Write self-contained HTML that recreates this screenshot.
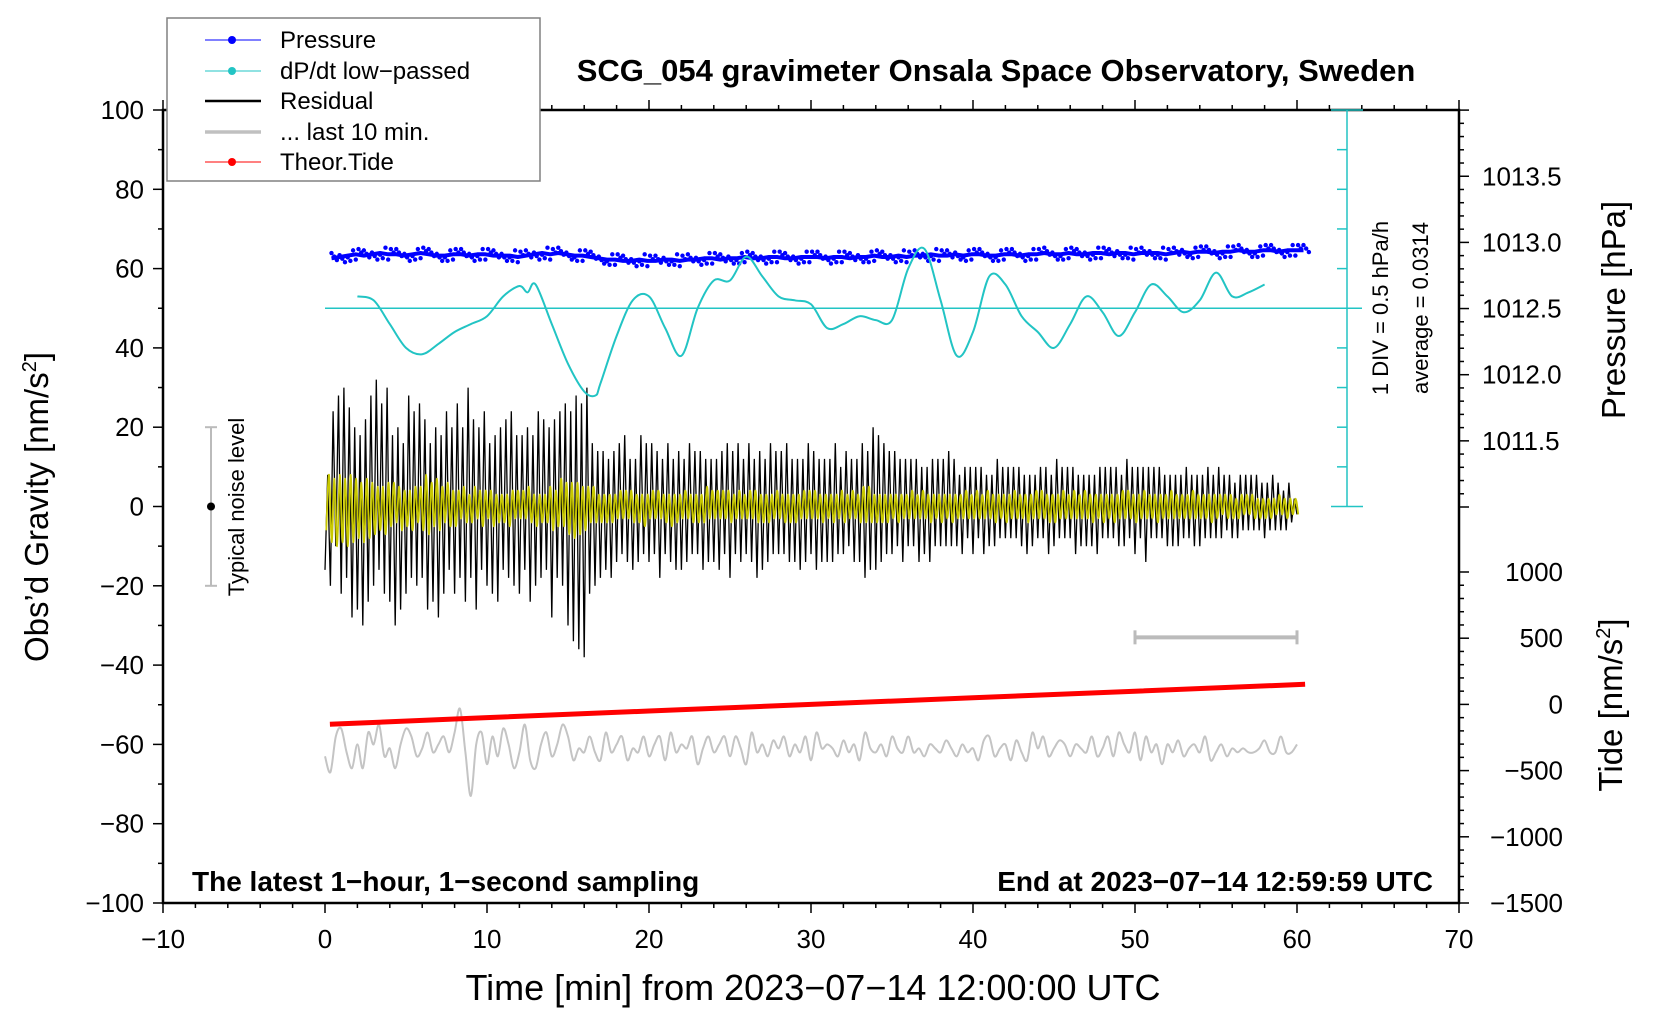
<!DOCTYPE html>
<html><head><meta charset="utf-8"><style>
html,body{margin:0;padding:0;background:#fff;}
svg text{font-family:"Liberation Sans",Arial,sans-serif;}
</style></head><body>
<svg id="chart" width="1660" height="1020" viewBox="0 0 1660 1020" xmlns="http://www.w3.org/2000/svg">
<rect x="0" y="0" width="1660" height="1020" fill="#fff"/>
<g id="axes"></g>
<g id="series"></g>
<g id="labels"></g>
</svg>
<script>
// ---- data ----
const tideTimes=[0.3,10,20,30,40,50,60.5];
const tideValues=[-150,-100,-50,0,50,100,152];
const dpdtTimes=[2,3,4,5,6,7,8,9,10,11,12,12.5,13,14,15,16,16.7,17,18,19,20,21,22,23,24,25,26,27,28,29,30,31,32,33,34,35,36,37,38,39,40,41,42,43,44,45,46,47,48,49,50,51,52,53,54,55,56,57,58];
const dpdtValues=[0.15,0.1,-0.2,-0.5,-0.58,-0.45,-0.3,-0.2,-0.1,0.15,0.28,0.2,0.3,-0.2,-0.7,-1.05,-1.1,-0.95,-0.35,0.1,0.15,-0.25,-0.6,0,0.35,0.35,0.65,0.4,0.15,0.1,0.05,-0.25,-0.2,-0.1,-0.15,-0.15,0.5,0.75,0.1,-0.6,-0.3,0.4,0.3,-0.1,-0.3,-0.5,-0.2,0.15,-0.05,-0.35,-0.05,0.3,0.15,-0.05,0.1,0.45,0.15,0.2,0.3];
const pressureValues=[1012.88,1012.89,1012.9,1012.91,1012.9,1012.91,1012.92,1012.91,1012.91,1012.9,1012.91,1012.92,1012.91,1012.9,1012.9,1012.91,1012.91,1012.9,1012.91,1012.91,1012.9,1012.9,1012.9,1012.89,1012.9,1012.91,1012.92,1012.91,1012.92,1012.91,1012.9,1012.9,1012.89,1012.88,1012.87,1012.87,1012.86,1012.86,1012.87,1012.86,1012.86,1012.87,1012.87,1012.86,1012.87,1012.87,1012.88,1012.88,1012.87,1012.88,1012.88,1012.89,1012.88,1012.88,1012.89,1012.89,1012.88,1012.88,1012.89,1012.89,1012.89,1012.88,1012.89,1012.89,1012.88,1012.89,1012.89,1012.9,1012.89,1012.89,1012.9,1012.89,1012.9,1012.9,1012.91,1012.9,1012.9,1012.91,1012.9,1012.91,1012.91,1012.9,1012.9,1012.91,1012.91,1012.9,1012.91,1012.91,1012.92,1012.91,1012.91,1012.92,1012.91,1012.91,1012.92,1012.92,1012.91,1012.92,1012.92,1012.91,1012.92,1012.92,1012.92,1012.91,1012.92,1012.93,1012.92,1012.93,1012.93,1012.92,1012.93,1012.93,1012.94,1012.93,1012.93,1012.94,1012.94,1012.93,1012.94,1012.94,1012.94];
const residualPeaks=[16,8,20,24,10,28, 22,30,18,25,28,20, 26,18,30,22,24,28, 20,32,16,26,22,30, 24,18,30,20,26,16, 22,28,18,24,20,26, 18,22,26,16,24,20, 28,18,22,24,16,20, 22,26,18,20,24,30, 18,22,26,20,16,24,
20,16,22,18,24,20, 16,22,18,24,20,18, 22,18,16,20,24,18, 20,24,18,22,16,20, 28,22,18,24,20,26, 30,24,34,28,36,26, 38,30,22,16,20,14, 18,14,16,12,18,14, 14,16,12,18,14,12, 16,12,14,18,12,16,
14,16,12,14,18,12, 12,16,14,12,16,14, 16,12,14,16,12,14, 12,14,16,12,14,12, 14,12,16,14,12,16, 18,14,12,16,14,12, 12,16,14,12,18,14, 16,12,14,16,12,14, 12,14,12,16,14,12, 14,12,16,12,14,16,
12,14,16,12,14,12, 14,12,14,16,12,10, 12,14,10,12,14,12, 14,16,18,14,16,20, 16,18,14,16,12,14, 12,14,10,12,14,12, 10,12,10,12,14,10, 12,10,14,12,10,12, 10,12,10,14,10,12, 10,8,12,10,8,10,
12,10,8,10,12,8, 10,8,10,12,8,10, 8,10,8,10,8,10, 10,8,12,8,10,8, 8,10,8,10,12,8, 10,12,8,10,8,10, 8,10,12,8,10,8, 10,8,10,8,12,10, 8,10,8,10,8,10, 10,8,10,12,8,10,
12,10,8,10,14,10, 8,10,8,10,8,8, 10,8,10,8,10,8, 8,10,8,8,10,8, 10,8,8,10,8,8, 8,10,8,8,6,8, 8,6,8,8,6,8, 6,8,6,8,6,6, 8,6,6,8,6,6, 6,4,6,6,4,2, 2];
const filteredPeaks=[6,8,9,7,10,8, 9,7,10,8,9,7, 8,6,9,7,8,6, 7,5,6,5,7,6, 5,6,4,5,6,4, 5,4,6,5,4,5, 6,8,7,6,5,7, 6,5,4,6,5,4, 5,4,3,5,4,3, 4,5,3,4,5,4,
3,4,5,3,4,3, 4,3,5,4,3,4, 3,4,3,5,4,3, 5,3,4,3,4,5, 6,4,5,7,5,6, 7,6,8,6,7,5, 6,5,4,5,4,3, 4,3,4,3,4,3, 3,4,3,4,3,4, 4,3,4,3,5,3,
3,4,3,4,3,3, 4,3,5,3,4,3, 3,4,3,3,4,3, 4,3,4,5,3,4, 3,4,3,4,3,4, 4,3,3,4,3,3, 3,4,3,4,4,3, 4,3,4,3,3,4, 3,3,4,3,4,3, 4,3,3,4,3,4,
3,4,3,3,4,3, 3,3,4,3,3,4, 4,3,3,4,3,3, 4,5,4,5,4,3, 4,3,4,3,4,3, 3,3,4,3,3,3, 3,4,3,3,3,4, 3,3,4,3,3,3, 4,3,3,3,4,3, 3,3,3,4,3,3,
3,4,3,3,3,4, 3,3,4,3,3,3, 4,3,3,4,3,3, 3,3,4,3,3,4, 3,4,3,3,4,3, 4,3,3,4,3,3, 3,4,3,3,3,4, 3,3,4,3,3,3, 4,3,3,3,4,3, 3,4,3,4,3,3,
4,3,3,4,3,3, 3,3,4,3,3,3, 3,4,3,3,3,3, 3,3,3,4,3,3, 3,3,3,3,4,3, 3,3,2,3,3,3, 3,2,3,3,2,3, 2,3,3,2,3,2, 3,2,3,2,2,3, 2,2,3,2,2,2, 2];
const lastTenValues=[-63,-67,-58,-56,-62,-66,-60,-66,-57,-60,-55,-63,-61,-66,-60,-56,-58,-63,-61,-57,-62,-60,-58,-62,-57,-51,-62,-73,-60,-57,
-65,-58,-63,-56,-60,-66,-62,-55,-64,-66,-60,-57,-63,-60,-55,-58,-64,-61,-62,-58,-62,-64,-57,-62,-60,-58,-64,-61,-62,-58,
-63,-60,-58,-64,-57,-62,-60,-61,-58,-65,-61,-58,-62,-60,-58,-63,-58,-61,-65,-57,-62,-60,-63,-59,-61,-58,-63,-60,-62,-58,
-64,-57,-61,-60,-61,-63,-59,-62,-60,-64,-57,-61,-62,-60,-63,-58,-61,-62,-58,-62,-61,-63,-60,-61,-62,-59,-61,-63,-60,-62,
-61,-64,-59,-58,-63,-61,-60,-64,-59,-62,-64,-57,-61,-58,-63,-61,-59,-60,-63,-60,-61,-62,-58,-63,-61,-58,-63,-57,-60,-62,
-57,-64,-58,-62,-60,-65,-60,-62,-59,-63,-61,-60,-62,-58,-64,-62,-60,-63,-61,-62,-61,-62,-62,-61,-59,-62,-62,-58,-62,-62,-60];
const xTicks=[-10,0,10,20,30,40,50,60,70];
const yTicks=[-100,-80,-60,-40,-20,0,20,40,60,80,100];
const pTicks=[1011.5,1012.0,1012.5,1013.0,1013.5];
const tideTicks=[-1500,-1000,-500,0,500,1000];

// ---- scales ----
const L=163,R=1459,T=110,B=903;
const X=t=>325+16.2*t;
const YG=g=>B-(g+100)*3.965;
const YP=p=>507-(p-1011)*132.3;
const YT=v=>B-(v+1500)*0.1324;
const NS='http://www.w3.org/2000/svg';
function mk(parent,tag,attrs,txt){const e=document.createElementNS(NS,tag);for(const k in attrs)e.setAttribute(k,attrs[k]);if(txt!==undefined)e.textContent=txt;document.getElementById(parent).appendChild(e);return e;}
function fmt(n){return n<0?'\u2212'+(-n):''+n;}
function smoothPath(pts){let d='M'+pts[0][0].toFixed(1)+','+pts[0][1].toFixed(1);
 for(let i=0;i<pts.length-1;i++){const p0=pts[i-1]||pts[i],p1=pts[i],p2=pts[i+1],p3=pts[i+2]||p2;
  const c1=[p1[0]+(p2[0]-p0[0])/6,p1[1]+(p2[1]-p0[1])/6],c2=[p2[0]-(p3[0]-p1[0])/6,p2[1]-(p3[1]-p1[1])/6];
  d+=' C'+c1[0].toFixed(1)+','+c1[1].toFixed(1)+' '+c2[0].toFixed(1)+','+c2[1].toFixed(1)+' '+p2[0].toFixed(1)+','+p2[1].toFixed(1);}
 return d;}

let e;
e=mk('axes','rect',{x:L,y:T,width:R-L,height:B-T,fill:'none',stroke:'#000','stroke-width':2.5});


for(let t=-10;t<=70;t+=2){const major=t%10===0;
 e=mk('axes','line',{x1:X(t),x2:X(t),y1:B,y2:B+(major?10:5),stroke:'#000','stroke-width':1.5});
 
 
 e=mk('axes','line',{x1:X(t),x2:X(t),y1:T,y2:T-(major?10:5),stroke:'#000','stroke-width':1.5});
 
 }
xTicks.forEach(t=>{e=mk('axes','text',{x:X(t),y:B+45,'font-size':26,'text-anchor':'middle'},fmt(t));
 
 });
for(let g=-100;g<=100;g+=10){const major=g%20===0;
 e=mk('axes','line',{x1:L,x2:L-(major?10:5),y1:YG(g),y2:YG(g),stroke:'#000','stroke-width':1.5});
 
 }
yTicks.forEach(g=>{e=mk('axes','text',{x:L-19,y:YG(g)+9,'font-size':26,'text-anchor':'end'},fmt(g));
 
 });
for(let i=0;i<=30;i++){const p=1011+i*0.1;const major=i%5===0;
 e=mk('axes','line',{x1:R,x2:R+(major?10:5),y1:YP(p),y2:YP(p),stroke:'#000','stroke-width':1.5});
 
 }
pTicks.forEach(p=>{e=mk('axes','text',{x:R+23,y:YP(p)+9,'font-size':26},p.toFixed(1));
 
 });
for(let v=-1500;v<=1000;v+=100){const major=v%500===0;
 e=mk('axes','line',{x1:R,x2:R+(major?10:5),y1:YT(v),y2:YT(v),stroke:'#000','stroke-width':1.5});
 
 }
tideTicks.forEach(v=>{e=mk('axes','text',{x:1563,y:YT(v)+9,'font-size':26,'text-anchor':'end'},fmt(v));
 
 });
const CX=1347;
e=mk('axes','line',{x1:CX,x2:CX,y1:T,y2:YG(0),stroke:'#22c4c4','stroke-width':1.5});


for(let g=0;g<=100;g+=10){const end=(g===0||g===100);
 e=mk('axes','line',{x1:end?CX-16:CX-10,x2:end?CX+16:CX,y1:YG(g),y2:YG(g),stroke:'#22c4c4','stroke-width':1.5});
 
 }

function poly(pts,attrs,name){e=mk('series','polyline',Object.assign({points:pts.map(p=>p[0].toFixed(1)+','+p[1].toFixed(1)).join(' '),fill:'none'},attrs));
 
 }
function curve(pts,attrs,name){e=mk('series','path',Object.assign({d:smoothPath(pts),fill:'none'},attrs));
 
 }
e=mk('series','line',{x1:X(0),x2:1362,y1:YG(50),y2:YG(50),stroke:'#22c4c4','stroke-width':1.5});


curve(lastTenValues.map((v,i)=>[X(i/3),YG(v)]),{stroke:'#c4c4c4','stroke-width':2},'last-10-min-line');
poly(tideValues.map((v,i)=>[X(tideTimes[i]),YT(v)]),{stroke:'#ff0000','stroke-width':5},'theor-tide-line');
poly(residualPeaks.map((v,i)=>[X(i/6),YG((i%2?1:-1)*v)]),{stroke:'#000','stroke-width':1.3},'residual-line');
curve(filteredPeaks.map((v,i)=>[X(i/6+0.08),YG((i%2?1:-1)*v)]),{stroke:'#c8c800','stroke-width':1.8},'residual-filtered-line');
poly(pressureValues.map((v,i)=>[X(0.4+i/2),YP(v)]),{stroke:'#0000ff','stroke-width':4,'stroke-linejoin':'round'},'pressure-band');
pressureValues.forEach((v,i)=>{
 for(let k=0;k<3;k++){
 e=mk('series','circle',{cx:X(0.4+i/2+k/6),cy:YP(v)+(((i+k)%4)-1.5)*3.5,r:2.2,fill:'#0000ff'});
 
 }});
curve(dpdtValues.map((v,i)=>[X(dpdtTimes[i]),YG(50+20*v)]),{stroke:'#22c4c4','stroke-width':2},'dpdt-line');
e=mk('series','line',{x1:211,x2:211,y1:YG(20),y2:YG(-20),stroke:'#bbb','stroke-width':2});


[20,-20].forEach(g=>{e=mk('series','line',{x1:205,x2:217,y1:YG(g),y2:YG(g),stroke:'#bbb','stroke-width':2});
 
 });
e=mk('series','circle',{cx:211,cy:YG(0),r:4,fill:'#000'});


e=mk('series','line',{x1:X(50),x2:X(60),y1:YG(-33),y2:YG(-33),stroke:'#bbb','stroke-width':4});


[50,60].forEach(t=>{e=mk('series','line',{x1:X(t),x2:X(t),y1:YG(-33)-7,y2:YG(-33)+7,stroke:'#bbb','stroke-width':3});
 
 });
</script>
<svg width="1660" height="1020" style="position:absolute;left:0;top:0" xmlns="http://www.w3.org/2000/svg">
<text x="996" y="81" font-size="31" font-weight="bold" text-anchor="middle" font-family="Liberation Sans, sans-serif">SCG_054 gravimeter Onsala Space Observatory, Sweden</text>
<text x="813" y="1000" font-size="36" text-anchor="middle" font-family="Liberation Sans, sans-serif">Time [min] from 2023−07−14 12:00:00 UTC</text>
<text transform="translate(48,507) rotate(-90)" font-size="33" text-anchor="middle" font-family="Liberation Sans, sans-serif">Obs’d Gravity [nm/s<tspan font-size="20" dy="-12">2</tspan><tspan dy="12">]</tspan></text>
<text transform="translate(1625,310) rotate(-90)" font-size="33" text-anchor="middle" font-family="Liberation Sans, sans-serif">Pressure [hPa]</text>
<text transform="translate(1622,705) rotate(-90)" font-size="33" text-anchor="middle" font-family="Liberation Sans, sans-serif">Tide [nm/s<tspan font-size="20" dy="-12">2</tspan><tspan dy="12">]</tspan></text>
<text transform="translate(1388,308) rotate(-90)" font-size="22" text-anchor="middle" font-family="Liberation Sans, sans-serif">1 DIV = 0.5 hPa/h</text>
<text transform="translate(1428,308) rotate(-90)" font-size="22" text-anchor="middle" font-family="Liberation Sans, sans-serif">average = 0.0314</text>
<text transform="translate(244,507) rotate(-90)" font-size="22" text-anchor="middle" font-family="Liberation Sans, sans-serif">Typical noise level</text>
<text x="192" y="891" font-size="28" font-weight="bold" font-family="Liberation Sans, sans-serif">The latest 1−hour, 1−second sampling</text>
<text x="1433" y="891" font-size="28" font-weight="bold" text-anchor="end" font-family="Liberation Sans, sans-serif">End at 2023−07−14 12:59:59 UTC</text>
<g font-family="Liberation Sans, sans-serif" font-size="24">
<rect x="167" y="18" width="373" height="163" fill="#fff" stroke="#808080" stroke-width="1.5"/>
<g><line x1="205" x2="261" y1="40" y2="40" stroke="#0000ff" stroke-width="1"/><circle cx="232" cy="40" r="4" fill="#0000ff"/><text x="280" y="48">Pressure</text></g>
<g><line x1="205" x2="261" y1="71" y2="71" stroke="#22c4c4" stroke-width="1"/><circle cx="232" cy="71" r="4" fill="#22c4c4"/><text x="280" y="79">dP/dt low−passed</text></g>
<g><line x1="205" x2="261" y1="101" y2="101" stroke="#000" stroke-width="2.5"/><text x="280" y="109">Residual</text></g>
<g><line x1="205" x2="261" y1="132" y2="132" stroke="#c0c0c0" stroke-width="3.5"/><text x="280" y="140">... last 10 min.</text></g>
<g><line x1="205" x2="261" y1="162" y2="162" stroke="#ff0000" stroke-width="1"/><circle cx="232" cy="162" r="4" fill="#ff0000"/><text x="280" y="170">Theor.Tide</text></g>
</g>
</svg>
</body></html>
